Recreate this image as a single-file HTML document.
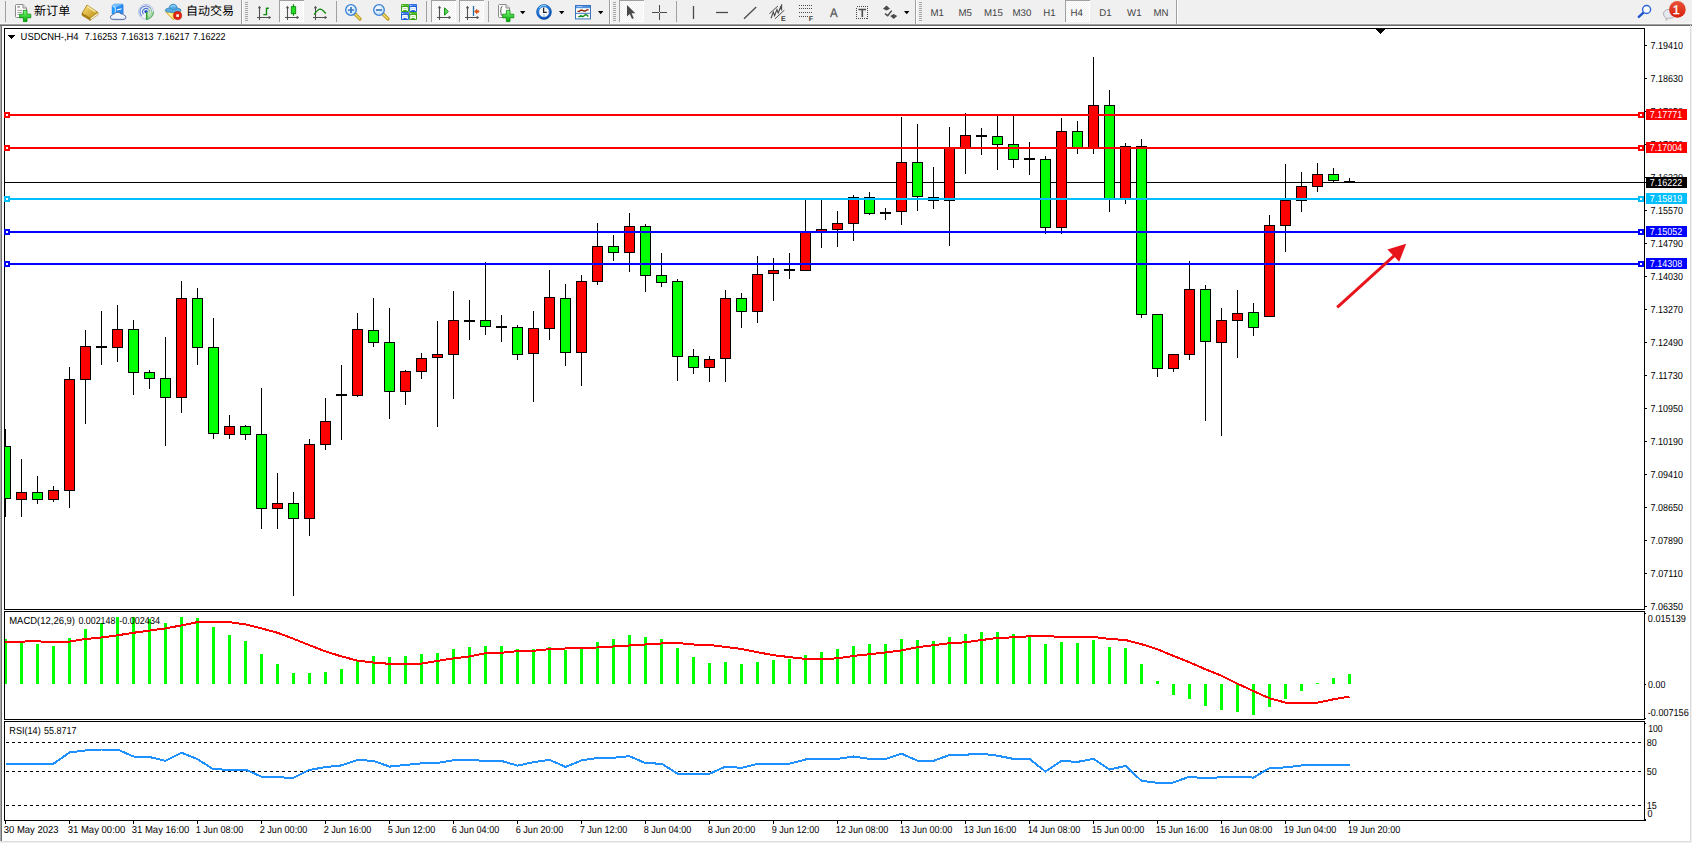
<!DOCTYPE html>
<html lang="zh"><head><meta charset="utf-8"><title>USDCNH-,H4</title>
<style>
html,body{margin:0;padding:0;background:#f0f0f0;overflow:hidden}
body{width:1692px;height:843px;position:relative;font-family:"Liberation Sans", "Noto Sans CJK SC", sans-serif}
svg{position:absolute;left:0;top:0;display:block}
svg text{font-family:"Liberation Sans", "Noto Sans CJK SC", sans-serif;font-size:10.2px;white-space:pre;text-rendering:geometricPrecision}
.cr *{shape-rendering:crispEdges}
</style></head><body>
<svg width="1692" height="843" viewBox="0 0 1692 843">
<g class="cr">
<rect x="0" y="0" width="1692" height="843" fill="#f0f0f0"/>
<rect x="0" y="23" width="1692" height="1" fill="#f6f6f6"/>
<rect x="0" y="24" width="1692" height="1" fill="#a0a0a0"/>
<rect x="0" y="25" width="1692" height="1" fill="#696969"/>
<rect x="0" y="26" width="1690" height="815" fill="#ffffff"/>
<rect x="0" y="26" width="1" height="815" fill="#a9a9a9"/>
<rect x="1" y="26" width="1" height="815" fill="#6e6e6e"/>
<rect x="1690" y="25" width="1" height="817" fill="#dcdcdc"/>
<rect x="0" y="841" width="1691" height="1" fill="#dcdcdc"/>
<rect x="4" y="28" width="1641" height="1" fill="#000"/>
<rect x="4" y="609" width="1641" height="1" fill="#000"/>
<rect x="4" y="611" width="1641" height="1" fill="#000"/>
<rect x="4" y="719" width="1641" height="1" fill="#000"/>
<rect x="4" y="721" width="1641" height="1" fill="#000"/>
<rect x="4" y="820" width="1642" height="1" fill="#000"/>
<rect x="4" y="28" width="1" height="582" fill="#000"/>
<rect x="1644" y="28" width="1" height="582" fill="#000"/>
<rect x="4" y="611" width="1" height="109" fill="#000"/>
<rect x="1644" y="611" width="1" height="109" fill="#000"/>
<rect x="4" y="721" width="1" height="100" fill="#000"/>
<rect x="1644" y="721" width="1" height="100" fill="#000"/>
<rect x="1376" y="29" width="9" height="1" fill="#000"/>
<rect x="1377" y="30" width="7" height="1" fill="#000"/>
<rect x="1378" y="31" width="5" height="1" fill="#000"/>
<rect x="1379" y="32" width="3" height="1" fill="#000"/>
<rect x="1380" y="33" width="1" height="1" fill="#000"/>
<rect x="5" y="182" width="1641" height="1" fill="#000"/>
<g id="candles">
<rect x="5" y="429" width="1" height="88" fill="#000"/>
<rect x="5" y="446" width="6" height="53" fill="#000"/>
<rect x="5" y="447" width="5" height="51" fill="#00ff00"/>
<rect x="21" y="459" width="1" height="58" fill="#000"/>
<rect x="16" y="492" width="11" height="8" fill="#000"/>
<rect x="17" y="493" width="9" height="6" fill="#ff0000"/>
<rect x="37" y="476" width="1" height="28" fill="#000"/>
<rect x="32" y="492" width="11" height="8" fill="#000"/>
<rect x="33" y="493" width="9" height="6" fill="#00ff00"/>
<rect x="53" y="486" width="1" height="16" fill="#000"/>
<rect x="48" y="490" width="11" height="10" fill="#000"/>
<rect x="49" y="491" width="9" height="8" fill="#ff0000"/>
<rect x="69" y="367" width="1" height="141" fill="#000"/>
<rect x="64" y="379" width="11" height="112" fill="#000"/>
<rect x="65" y="380" width="9" height="110" fill="#ff0000"/>
<rect x="85" y="330" width="1" height="94" fill="#000"/>
<rect x="80" y="346" width="11" height="34" fill="#000"/>
<rect x="81" y="347" width="9" height="32" fill="#ff0000"/>
<rect x="101" y="311" width="1" height="54" fill="#000"/>
<rect x="96" y="346" width="11" height="2" fill="#000"/>
<rect x="117" y="305" width="1" height="57" fill="#000"/>
<rect x="112" y="329" width="11" height="19" fill="#000"/>
<rect x="113" y="330" width="9" height="17" fill="#ff0000"/>
<rect x="133" y="320" width="1" height="75" fill="#000"/>
<rect x="128" y="329" width="11" height="44" fill="#000"/>
<rect x="129" y="330" width="9" height="42" fill="#00ff00"/>
<rect x="149" y="370" width="1" height="19" fill="#000"/>
<rect x="144" y="372" width="11" height="7" fill="#000"/>
<rect x="145" y="373" width="9" height="5" fill="#00ff00"/>
<rect x="165" y="337" width="1" height="109" fill="#000"/>
<rect x="160" y="378" width="11" height="20" fill="#000"/>
<rect x="161" y="379" width="9" height="18" fill="#00ff00"/>
<rect x="181" y="281" width="1" height="132" fill="#000"/>
<rect x="176" y="298" width="11" height="100" fill="#000"/>
<rect x="177" y="299" width="9" height="98" fill="#ff0000"/>
<rect x="197" y="288" width="1" height="77" fill="#000"/>
<rect x="192" y="298" width="11" height="50" fill="#000"/>
<rect x="193" y="299" width="9" height="48" fill="#00ff00"/>
<rect x="213" y="318" width="1" height="121" fill="#000"/>
<rect x="208" y="347" width="11" height="87" fill="#000"/>
<rect x="209" y="348" width="9" height="85" fill="#00ff00"/>
<rect x="229" y="415" width="1" height="24" fill="#000"/>
<rect x="224" y="426" width="11" height="9" fill="#000"/>
<rect x="225" y="427" width="9" height="7" fill="#ff0000"/>
<rect x="245" y="425" width="1" height="15" fill="#000"/>
<rect x="240" y="426" width="11" height="9" fill="#000"/>
<rect x="241" y="427" width="9" height="7" fill="#00ff00"/>
<rect x="261" y="388" width="1" height="141" fill="#000"/>
<rect x="256" y="434" width="11" height="75" fill="#000"/>
<rect x="257" y="435" width="9" height="73" fill="#00ff00"/>
<rect x="277" y="473" width="1" height="56" fill="#000"/>
<rect x="272" y="503" width="11" height="6" fill="#000"/>
<rect x="273" y="504" width="9" height="4" fill="#ff0000"/>
<rect x="293" y="492" width="1" height="104" fill="#000"/>
<rect x="288" y="503" width="11" height="16" fill="#000"/>
<rect x="289" y="504" width="9" height="14" fill="#00ff00"/>
<rect x="309" y="439" width="1" height="97" fill="#000"/>
<rect x="304" y="444" width="11" height="75" fill="#000"/>
<rect x="305" y="445" width="9" height="73" fill="#ff0000"/>
<rect x="325" y="398" width="1" height="52" fill="#000"/>
<rect x="320" y="421" width="11" height="24" fill="#000"/>
<rect x="321" y="422" width="9" height="22" fill="#ff0000"/>
<rect x="341" y="365" width="1" height="75" fill="#000"/>
<rect x="336" y="394" width="11" height="2" fill="#000"/>
<rect x="357" y="313" width="1" height="84" fill="#000"/>
<rect x="352" y="329" width="11" height="67" fill="#000"/>
<rect x="353" y="330" width="9" height="65" fill="#ff0000"/>
<rect x="373" y="298" width="1" height="49" fill="#000"/>
<rect x="368" y="330" width="11" height="13" fill="#000"/>
<rect x="369" y="331" width="9" height="11" fill="#00ff00"/>
<rect x="389" y="308" width="1" height="111" fill="#000"/>
<rect x="384" y="342" width="11" height="50" fill="#000"/>
<rect x="385" y="343" width="9" height="48" fill="#00ff00"/>
<rect x="405" y="370" width="1" height="35" fill="#000"/>
<rect x="400" y="371" width="11" height="21" fill="#000"/>
<rect x="401" y="372" width="9" height="19" fill="#ff0000"/>
<rect x="421" y="353" width="1" height="26" fill="#000"/>
<rect x="416" y="358" width="11" height="14" fill="#000"/>
<rect x="417" y="359" width="9" height="12" fill="#ff0000"/>
<rect x="437" y="321" width="1" height="106" fill="#000"/>
<rect x="432" y="354" width="11" height="4" fill="#000"/>
<rect x="433" y="355" width="9" height="2" fill="#ff0000"/>
<rect x="453" y="291" width="1" height="108" fill="#000"/>
<rect x="448" y="320" width="11" height="35" fill="#000"/>
<rect x="449" y="321" width="9" height="33" fill="#ff0000"/>
<rect x="469" y="300" width="1" height="40" fill="#000"/>
<rect x="464" y="320" width="11" height="2" fill="#000"/>
<rect x="485" y="262" width="1" height="73" fill="#000"/>
<rect x="480" y="320" width="11" height="7" fill="#000"/>
<rect x="481" y="321" width="9" height="5" fill="#00ff00"/>
<rect x="501" y="315" width="1" height="27" fill="#000"/>
<rect x="496" y="326" width="11" height="2" fill="#000"/>
<rect x="517" y="325" width="1" height="35" fill="#000"/>
<rect x="512" y="327" width="11" height="28" fill="#000"/>
<rect x="513" y="328" width="9" height="26" fill="#00ff00"/>
<rect x="533" y="311" width="1" height="91" fill="#000"/>
<rect x="528" y="328" width="11" height="26" fill="#000"/>
<rect x="529" y="329" width="9" height="24" fill="#ff0000"/>
<rect x="549" y="270" width="1" height="70" fill="#000"/>
<rect x="544" y="297" width="11" height="32" fill="#000"/>
<rect x="545" y="298" width="9" height="30" fill="#ff0000"/>
<rect x="565" y="284" width="1" height="82" fill="#000"/>
<rect x="560" y="298" width="11" height="55" fill="#000"/>
<rect x="561" y="299" width="9" height="53" fill="#00ff00"/>
<rect x="581" y="275" width="1" height="111" fill="#000"/>
<rect x="576" y="281" width="11" height="72" fill="#000"/>
<rect x="577" y="282" width="9" height="70" fill="#ff0000"/>
<rect x="597" y="223" width="1" height="62" fill="#000"/>
<rect x="592" y="246" width="11" height="36" fill="#000"/>
<rect x="593" y="247" width="9" height="34" fill="#ff0000"/>
<rect x="613" y="235" width="1" height="26" fill="#000"/>
<rect x="608" y="246" width="11" height="7" fill="#000"/>
<rect x="609" y="247" width="9" height="5" fill="#00ff00"/>
<rect x="629" y="213" width="1" height="59" fill="#000"/>
<rect x="624" y="226" width="11" height="27" fill="#000"/>
<rect x="625" y="227" width="9" height="25" fill="#ff0000"/>
<rect x="645" y="224" width="1" height="68" fill="#000"/>
<rect x="640" y="226" width="11" height="50" fill="#000"/>
<rect x="641" y="227" width="9" height="48" fill="#00ff00"/>
<rect x="661" y="253" width="1" height="34" fill="#000"/>
<rect x="656" y="275" width="11" height="8" fill="#000"/>
<rect x="657" y="276" width="9" height="6" fill="#00ff00"/>
<rect x="677" y="279" width="1" height="102" fill="#000"/>
<rect x="672" y="281" width="11" height="76" fill="#000"/>
<rect x="673" y="282" width="9" height="74" fill="#00ff00"/>
<rect x="693" y="349" width="1" height="25" fill="#000"/>
<rect x="688" y="356" width="11" height="12" fill="#000"/>
<rect x="689" y="357" width="9" height="10" fill="#00ff00"/>
<rect x="709" y="356" width="1" height="26" fill="#000"/>
<rect x="704" y="359" width="11" height="9" fill="#000"/>
<rect x="705" y="360" width="9" height="7" fill="#ff0000"/>
<rect x="725" y="290" width="1" height="92" fill="#000"/>
<rect x="720" y="298" width="11" height="61" fill="#000"/>
<rect x="721" y="299" width="9" height="59" fill="#ff0000"/>
<rect x="741" y="293" width="1" height="35" fill="#000"/>
<rect x="736" y="298" width="11" height="14" fill="#000"/>
<rect x="737" y="299" width="9" height="12" fill="#00ff00"/>
<rect x="757" y="256" width="1" height="67" fill="#000"/>
<rect x="752" y="274" width="11" height="38" fill="#000"/>
<rect x="753" y="275" width="9" height="36" fill="#ff0000"/>
<rect x="773" y="258" width="1" height="43" fill="#000"/>
<rect x="768" y="270" width="11" height="4" fill="#000"/>
<rect x="769" y="271" width="9" height="2" fill="#ff0000"/>
<rect x="789" y="253" width="1" height="26" fill="#000"/>
<rect x="784" y="269" width="11" height="2" fill="#000"/>
<rect x="805" y="200" width="1" height="71" fill="#000"/>
<rect x="800" y="231" width="11" height="40" fill="#000"/>
<rect x="801" y="232" width="9" height="38" fill="#ff0000"/>
<rect x="821" y="200" width="1" height="48" fill="#000"/>
<rect x="816" y="229" width="11" height="3" fill="#000"/>
<rect x="817" y="230" width="9" height="1" fill="#ff0000"/>
<rect x="837" y="211" width="1" height="36" fill="#000"/>
<rect x="832" y="223" width="11" height="7" fill="#000"/>
<rect x="833" y="224" width="9" height="5" fill="#ff0000"/>
<rect x="853" y="195" width="1" height="46" fill="#000"/>
<rect x="848" y="197" width="11" height="27" fill="#000"/>
<rect x="849" y="198" width="9" height="25" fill="#ff0000"/>
<rect x="869" y="192" width="1" height="23" fill="#000"/>
<rect x="864" y="197" width="11" height="17" fill="#000"/>
<rect x="865" y="198" width="9" height="15" fill="#00ff00"/>
<rect x="885" y="208" width="1" height="12" fill="#000"/>
<rect x="880" y="212" width="11" height="2" fill="#000"/>
<rect x="901" y="117" width="1" height="108" fill="#000"/>
<rect x="896" y="162" width="11" height="50" fill="#000"/>
<rect x="897" y="163" width="9" height="48" fill="#ff0000"/>
<rect x="917" y="124" width="1" height="87" fill="#000"/>
<rect x="912" y="162" width="11" height="35" fill="#000"/>
<rect x="913" y="163" width="9" height="33" fill="#00ff00"/>
<rect x="933" y="167" width="1" height="42" fill="#000"/>
<rect x="928" y="197" width="11" height="4" fill="#000"/>
<rect x="929" y="198" width="9" height="2" fill="#00ff00"/>
<rect x="949" y="127" width="1" height="119" fill="#000"/>
<rect x="944" y="147" width="11" height="54" fill="#000"/>
<rect x="945" y="148" width="9" height="52" fill="#ff0000"/>
<rect x="965" y="113" width="1" height="61" fill="#000"/>
<rect x="960" y="135" width="11" height="13" fill="#000"/>
<rect x="961" y="136" width="9" height="11" fill="#ff0000"/>
<rect x="981" y="128" width="1" height="27" fill="#000"/>
<rect x="976" y="135" width="11" height="2" fill="#000"/>
<rect x="997" y="116" width="1" height="54" fill="#000"/>
<rect x="992" y="136" width="11" height="9" fill="#000"/>
<rect x="993" y="137" width="9" height="7" fill="#00ff00"/>
<rect x="1013" y="116" width="1" height="52" fill="#000"/>
<rect x="1008" y="144" width="11" height="16" fill="#000"/>
<rect x="1009" y="145" width="9" height="14" fill="#00ff00"/>
<rect x="1029" y="142" width="1" height="33" fill="#000"/>
<rect x="1024" y="158" width="11" height="2" fill="#000"/>
<rect x="1045" y="156" width="1" height="78" fill="#000"/>
<rect x="1040" y="159" width="11" height="69" fill="#000"/>
<rect x="1041" y="160" width="9" height="67" fill="#00ff00"/>
<rect x="1061" y="118" width="1" height="116" fill="#000"/>
<rect x="1056" y="131" width="11" height="97" fill="#000"/>
<rect x="1057" y="132" width="9" height="95" fill="#ff0000"/>
<rect x="1077" y="121" width="1" height="33" fill="#000"/>
<rect x="1072" y="131" width="11" height="17" fill="#000"/>
<rect x="1073" y="132" width="9" height="15" fill="#00ff00"/>
<rect x="1093" y="57" width="1" height="97" fill="#000"/>
<rect x="1088" y="105" width="11" height="43" fill="#000"/>
<rect x="1089" y="106" width="9" height="41" fill="#ff0000"/>
<rect x="1109" y="90" width="1" height="122" fill="#000"/>
<rect x="1104" y="105" width="11" height="94" fill="#000"/>
<rect x="1105" y="106" width="9" height="92" fill="#00ff00"/>
<rect x="1125" y="143" width="1" height="61" fill="#000"/>
<rect x="1120" y="146" width="11" height="53" fill="#000"/>
<rect x="1121" y="147" width="9" height="51" fill="#ff0000"/>
<rect x="1141" y="139" width="1" height="179" fill="#000"/>
<rect x="1136" y="146" width="11" height="169" fill="#000"/>
<rect x="1137" y="147" width="9" height="167" fill="#00ff00"/>
<rect x="1157" y="314" width="1" height="63" fill="#000"/>
<rect x="1152" y="314" width="11" height="55" fill="#000"/>
<rect x="1153" y="315" width="9" height="53" fill="#00ff00"/>
<rect x="1173" y="354" width="1" height="18" fill="#000"/>
<rect x="1168" y="354" width="11" height="15" fill="#000"/>
<rect x="1169" y="355" width="9" height="13" fill="#ff0000"/>
<rect x="1189" y="261" width="1" height="99" fill="#000"/>
<rect x="1184" y="289" width="11" height="66" fill="#000"/>
<rect x="1185" y="290" width="9" height="64" fill="#ff0000"/>
<rect x="1205" y="285" width="1" height="136" fill="#000"/>
<rect x="1200" y="289" width="11" height="53" fill="#000"/>
<rect x="1201" y="290" width="9" height="51" fill="#00ff00"/>
<rect x="1221" y="308" width="1" height="128" fill="#000"/>
<rect x="1216" y="320" width="11" height="23" fill="#000"/>
<rect x="1217" y="321" width="9" height="21" fill="#ff0000"/>
<rect x="1237" y="290" width="1" height="68" fill="#000"/>
<rect x="1232" y="313" width="11" height="8" fill="#000"/>
<rect x="1233" y="314" width="9" height="6" fill="#ff0000"/>
<rect x="1253" y="303" width="1" height="33" fill="#000"/>
<rect x="1248" y="312" width="11" height="16" fill="#000"/>
<rect x="1249" y="313" width="9" height="14" fill="#00ff00"/>
<rect x="1269" y="215" width="1" height="102" fill="#000"/>
<rect x="1264" y="225" width="11" height="92" fill="#000"/>
<rect x="1265" y="226" width="9" height="90" fill="#ff0000"/>
<rect x="1285" y="164" width="1" height="88" fill="#000"/>
<rect x="1280" y="200" width="11" height="26" fill="#000"/>
<rect x="1281" y="201" width="9" height="24" fill="#ff0000"/>
<rect x="1301" y="172" width="1" height="40" fill="#000"/>
<rect x="1296" y="186" width="11" height="15" fill="#000"/>
<rect x="1297" y="187" width="9" height="13" fill="#ff0000"/>
<rect x="1317" y="163" width="1" height="29" fill="#000"/>
<rect x="1312" y="174" width="11" height="13" fill="#000"/>
<rect x="1313" y="175" width="9" height="11" fill="#ff0000"/>
<rect x="1333" y="168" width="1" height="15" fill="#000"/>
<rect x="1328" y="174" width="11" height="7" fill="#000"/>
<rect x="1329" y="175" width="9" height="5" fill="#00ff00"/>
<rect x="1349" y="178" width="1" height="4" fill="#000"/>
<rect x="1344" y="181" width="11" height="1" fill="#000"/>
</g>
<rect x="5" y="114" width="1639" height="2" fill="#ff0000"/>
<rect x="4" y="112" width="6" height="6" fill="#ff0000"/>
<rect x="6" y="114" width="2" height="2" fill="#fff"/>
<rect x="1638" y="112" width="6" height="6" fill="#ff0000"/>
<rect x="1640" y="114" width="2" height="2" fill="#fff"/>
<rect x="5" y="147" width="1639" height="2" fill="#ff0000"/>
<rect x="4" y="145" width="6" height="6" fill="#ff0000"/>
<rect x="6" y="147" width="2" height="2" fill="#fff"/>
<rect x="1638" y="145" width="6" height="6" fill="#ff0000"/>
<rect x="1640" y="147" width="2" height="2" fill="#fff"/>
<rect x="5" y="198" width="1639" height="2" fill="#00bfff"/>
<rect x="4" y="196" width="6" height="6" fill="#00bfff"/>
<rect x="6" y="198" width="2" height="2" fill="#fff"/>
<rect x="1638" y="196" width="6" height="6" fill="#00bfff"/>
<rect x="1640" y="198" width="2" height="2" fill="#fff"/>
<rect x="5" y="231" width="1639" height="2" fill="#0000ff"/>
<rect x="4" y="229" width="6" height="6" fill="#0000ff"/>
<rect x="6" y="231" width="2" height="2" fill="#fff"/>
<rect x="1638" y="229" width="6" height="6" fill="#0000ff"/>
<rect x="1640" y="231" width="2" height="2" fill="#fff"/>
<rect x="5" y="263" width="1639" height="2" fill="#0000ff"/>
<rect x="4" y="261" width="6" height="6" fill="#0000ff"/>
<rect x="6" y="263" width="2" height="2" fill="#fff"/>
<rect x="1638" y="261" width="6" height="6" fill="#0000ff"/>
<rect x="1640" y="263" width="2" height="2" fill="#fff"/>
<rect x="5" y="639" width="2" height="45" fill="#00ff00"/>
<rect x="20" y="642" width="3" height="42" fill="#00ff00"/>
<rect x="36" y="644" width="3" height="40" fill="#00ff00"/>
<rect x="52" y="646" width="3" height="38" fill="#00ff00"/>
<rect x="68" y="638" width="3" height="46" fill="#00ff00"/>
<rect x="84" y="629" width="3" height="55" fill="#00ff00"/>
<rect x="100" y="623" width="3" height="61" fill="#00ff00"/>
<rect x="116" y="617" width="3" height="67" fill="#00ff00"/>
<rect x="132" y="617" width="3" height="67" fill="#00ff00"/>
<rect x="148" y="619" width="3" height="65" fill="#00ff00"/>
<rect x="164" y="623" width="3" height="61" fill="#00ff00"/>
<rect x="180" y="617" width="3" height="67" fill="#00ff00"/>
<rect x="196" y="618" width="3" height="66" fill="#00ff00"/>
<rect x="212" y="627" width="3" height="57" fill="#00ff00"/>
<rect x="228" y="635" width="3" height="49" fill="#00ff00"/>
<rect x="244" y="641" width="3" height="43" fill="#00ff00"/>
<rect x="260" y="654" width="3" height="30" fill="#00ff00"/>
<rect x="276" y="664" width="3" height="20" fill="#00ff00"/>
<rect x="292" y="673" width="3" height="11" fill="#00ff00"/>
<rect x="308" y="673" width="3" height="11" fill="#00ff00"/>
<rect x="324" y="672" width="3" height="12" fill="#00ff00"/>
<rect x="340" y="669" width="3" height="15" fill="#00ff00"/>
<rect x="356" y="661" width="3" height="23" fill="#00ff00"/>
<rect x="372" y="656" width="3" height="28" fill="#00ff00"/>
<rect x="388" y="657" width="3" height="27" fill="#00ff00"/>
<rect x="404" y="656" width="3" height="28" fill="#00ff00"/>
<rect x="420" y="654" width="3" height="30" fill="#00ff00"/>
<rect x="436" y="653" width="3" height="31" fill="#00ff00"/>
<rect x="452" y="649" width="3" height="35" fill="#00ff00"/>
<rect x="468" y="647" width="3" height="37" fill="#00ff00"/>
<rect x="484" y="646" width="3" height="38" fill="#00ff00"/>
<rect x="500" y="646" width="3" height="38" fill="#00ff00"/>
<rect x="516" y="649" width="3" height="35" fill="#00ff00"/>
<rect x="532" y="649" width="3" height="35" fill="#00ff00"/>
<rect x="548" y="647" width="3" height="37" fill="#00ff00"/>
<rect x="564" y="650" width="3" height="34" fill="#00ff00"/>
<rect x="580" y="648" width="3" height="36" fill="#00ff00"/>
<rect x="596" y="642" width="3" height="42" fill="#00ff00"/>
<rect x="612" y="639" width="3" height="45" fill="#00ff00"/>
<rect x="628" y="635" width="3" height="49" fill="#00ff00"/>
<rect x="644" y="637" width="3" height="47" fill="#00ff00"/>
<rect x="660" y="639" width="3" height="45" fill="#00ff00"/>
<rect x="676" y="648" width="3" height="36" fill="#00ff00"/>
<rect x="692" y="657" width="3" height="27" fill="#00ff00"/>
<rect x="708" y="663" width="3" height="21" fill="#00ff00"/>
<rect x="724" y="662" width="3" height="22" fill="#00ff00"/>
<rect x="740" y="664" width="3" height="20" fill="#00ff00"/>
<rect x="756" y="662" width="3" height="22" fill="#00ff00"/>
<rect x="772" y="660" width="3" height="24" fill="#00ff00"/>
<rect x="788" y="659" width="3" height="25" fill="#00ff00"/>
<rect x="804" y="655" width="3" height="29" fill="#00ff00"/>
<rect x="820" y="652" width="3" height="32" fill="#00ff00"/>
<rect x="836" y="649" width="3" height="35" fill="#00ff00"/>
<rect x="852" y="646" width="3" height="38" fill="#00ff00"/>
<rect x="868" y="644" width="3" height="40" fill="#00ff00"/>
<rect x="884" y="644" width="3" height="40" fill="#00ff00"/>
<rect x="900" y="639" width="3" height="45" fill="#00ff00"/>
<rect x="916" y="640" width="3" height="44" fill="#00ff00"/>
<rect x="932" y="641" width="3" height="43" fill="#00ff00"/>
<rect x="948" y="637" width="3" height="47" fill="#00ff00"/>
<rect x="964" y="634" width="3" height="50" fill="#00ff00"/>
<rect x="980" y="632" width="3" height="52" fill="#00ff00"/>
<rect x="996" y="632" width="3" height="52" fill="#00ff00"/>
<rect x="1012" y="634" width="3" height="50" fill="#00ff00"/>
<rect x="1028" y="637" width="3" height="47" fill="#00ff00"/>
<rect x="1044" y="644" width="3" height="40" fill="#00ff00"/>
<rect x="1060" y="642" width="3" height="42" fill="#00ff00"/>
<rect x="1076" y="643" width="3" height="41" fill="#00ff00"/>
<rect x="1092" y="640" width="3" height="44" fill="#00ff00"/>
<rect x="1108" y="647" width="3" height="37" fill="#00ff00"/>
<rect x="1124" y="648" width="3" height="36" fill="#00ff00"/>
<rect x="1140" y="664" width="3" height="20" fill="#00ff00"/>
<rect x="1156" y="681" width="3" height="3" fill="#00ff00"/>
<rect x="1316" y="683" width="3" height="1" fill="#00ff00"/>
<rect x="1332" y="678" width="3" height="6" fill="#00ff00"/>
<rect x="1348" y="674" width="3" height="10" fill="#00ff00"/>
<rect x="1172" y="684" width="3" height="11" fill="#00ff00"/>
<rect x="1188" y="684" width="3" height="15" fill="#00ff00"/>
<rect x="1204" y="684" width="3" height="22" fill="#00ff00"/>
<rect x="1220" y="684" width="3" height="26" fill="#00ff00"/>
<rect x="1236" y="684" width="3" height="28" fill="#00ff00"/>
<rect x="1252" y="684" width="3" height="31" fill="#00ff00"/>
<rect x="1268" y="684" width="3" height="23" fill="#00ff00"/>
<rect x="1284" y="684" width="3" height="15" fill="#00ff00"/>
<rect x="1300" y="684" width="3" height="7" fill="#00ff00"/>
</g>
<polyline points="5.5,642.0 21.5,641.8 30.5,641.0 37.5,641.2 45.5,642.0 53.5,642.0 69.5,641.6 85.5,639.0 101.5,637.5 117.5,635.3 133.5,632.8 149.5,630.6 165.5,628.4 181.5,625.4 197.5,622.1 213.5,621.9 229.5,622.1 245.5,624.4 261.5,628.4 277.5,632.8 293.5,638.8 309.5,645.2 325.5,651.4 341.5,656.4 357.5,660.6 373.5,662.6 389.5,663.8 405.5,663.8 421.5,663.6 437.5,660.9 453.5,658.4 469.5,656.4 485.5,653.2 501.5,652.7 517.5,651.2 533.5,650.7 549.5,649.2 565.5,648.5 581.5,647.7 597.5,647.5 613.5,646.5 629.5,645.5 645.5,644.5 661.5,643.5 677.5,643.0 693.5,644.5 709.5,645.0 725.5,647.0 741.5,649.0 757.5,652.2 773.5,655.2 789.5,657.1 805.5,658.9 821.5,658.9 837.5,658.4 853.5,655.9 869.5,654.2 885.5,652.4 901.5,650.4 917.5,647.2 933.5,645.2 949.5,643.2 965.5,642.3 981.5,640.0 997.5,638.0 1013.5,637.3 1029.5,636.3 1045.5,636.0 1061.5,637.0 1077.5,637.0 1093.5,637.0 1109.5,639.0 1125.5,640.0 1141.5,644.2 1157.5,649.2 1173.5,656.0 1189.5,662.3 1205.5,669.3 1221.5,675.8 1237.5,683.7 1253.5,691.1 1269.5,698.3 1285.5,702.6 1301.5,702.6 1317.5,702.6 1333.5,699.3 1349.5,696.6" fill="none" stroke="#ff0000" stroke-width="2" stroke-linejoin="round" shape-rendering="crispEdges"/>
<g class="cr">
<line x1="6" y1="742.5" x2="1644" y2="742.5" stroke="#000" stroke-width="1" stroke-dasharray="3 3"/>
<line x1="6" y1="771.5" x2="1644" y2="771.5" stroke="#000" stroke-width="1" stroke-dasharray="3 3"/>
<line x1="6" y1="805.5" x2="1644" y2="805.5" stroke="#000" stroke-width="1" stroke-dasharray="3 3"/>
</g>
<polyline points="5.5,763.7 21.5,763.7 37.5,763.7 53.5,763.7 69.5,752.5 85.5,750.5 101.5,749.5 117.5,749.5 133.5,756.5 149.5,757.0 165.5,760.9 181.5,752.7 197.5,759.2 213.5,769.4 229.5,769.6 245.5,769.6 261.5,776.6 277.5,777.3 293.5,777.8 309.5,769.9 325.5,767.1 341.5,765.4 357.5,759.9 373.5,760.9 389.5,766.6 405.5,765.0 421.5,763.4 437.5,762.9 453.5,760.2 469.5,759.9 485.5,760.9 501.5,760.9 517.5,765.6 533.5,762.2 549.5,759.9 565.5,766.9 581.5,760.4 597.5,757.9 613.5,757.7 629.5,756.2 645.5,763.2 661.5,763.7 677.5,773.6 693.5,773.8 709.5,773.8 725.5,766.6 741.5,767.9 757.5,763.9 773.5,763.7 789.5,763.7 805.5,759.5 821.5,758.9 837.5,758.9 853.5,756.5 869.5,758.9 885.5,758.9 901.5,753.7 917.5,760.7 933.5,760.9 949.5,755.0 965.5,754.7 981.5,753.7 997.5,755.7 1013.5,758.9 1029.5,758.9 1045.5,771.6 1061.5,760.9 1077.5,761.9 1093.5,758.9 1109.5,769.6 1125.5,765.9 1141.5,780.8 1157.5,782.8 1173.5,782.5 1189.5,776.6 1205.5,778.5 1221.5,777.1 1237.5,776.6 1253.5,777.6 1269.5,768.1 1285.5,767.4 1301.5,765.4 1317.5,764.9 1333.5,764.9 1349.5,764.9" fill="none" stroke="#1e90ff" stroke-width="2" stroke-linejoin="round" shape-rendering="crispEdges"/>
<g class="cr">
<rect x="1645" y="45" width="2" height="1" fill="#000"/>
<rect x="1645" y="78" width="2" height="1" fill="#000"/>
<rect x="1645" y="111" width="2" height="1" fill="#000"/>
<rect x="1645" y="144" width="2" height="1" fill="#000"/>
<rect x="1645" y="177" width="2" height="1" fill="#000"/>
<rect x="1645" y="210" width="2" height="1" fill="#000"/>
<rect x="1645" y="243" width="2" height="1" fill="#000"/>
<rect x="1645" y="276" width="2" height="1" fill="#000"/>
<rect x="1645" y="309" width="2" height="1" fill="#000"/>
<rect x="1645" y="342" width="2" height="1" fill="#000"/>
<rect x="1645" y="375" width="2" height="1" fill="#000"/>
<rect x="1645" y="408" width="2" height="1" fill="#000"/>
<rect x="1645" y="441" width="2" height="1" fill="#000"/>
<rect x="1645" y="474" width="2" height="1" fill="#000"/>
<rect x="1645" y="507" width="2" height="1" fill="#000"/>
<rect x="1645" y="540" width="2" height="1" fill="#000"/>
<rect x="1645" y="573" width="2" height="1" fill="#000"/>
<rect x="1645" y="606" width="2" height="1" fill="#000"/>
</g>
<text x="1650.6" y="49" fill="#000" textLength="32.3" lengthAdjust="spacingAndGlyphs">7.19410</text>
<text x="1650.6" y="82" fill="#000" textLength="32.3" lengthAdjust="spacingAndGlyphs">7.18630</text>
<text x="1650.6" y="115" fill="#000" textLength="32.3" lengthAdjust="spacingAndGlyphs">7.17850</text>
<text x="1650.6" y="148" fill="#000" textLength="32.3" lengthAdjust="spacingAndGlyphs">7.17090</text>
<text x="1650.6" y="181" fill="#000" textLength="32.3" lengthAdjust="spacingAndGlyphs">7.16330</text>
<text x="1650.6" y="214" fill="#000" textLength="32.3" lengthAdjust="spacingAndGlyphs">7.15570</text>
<text x="1650.6" y="247" fill="#000" textLength="32.3" lengthAdjust="spacingAndGlyphs">7.14790</text>
<text x="1650.6" y="280" fill="#000" textLength="32.3" lengthAdjust="spacingAndGlyphs">7.14030</text>
<text x="1650.6" y="313" fill="#000" textLength="32.3" lengthAdjust="spacingAndGlyphs">7.13270</text>
<text x="1650.6" y="346" fill="#000" textLength="32.3" lengthAdjust="spacingAndGlyphs">7.12490</text>
<text x="1650.6" y="379" fill="#000" textLength="32.3" lengthAdjust="spacingAndGlyphs">7.11730</text>
<text x="1650.6" y="412" fill="#000" textLength="32.3" lengthAdjust="spacingAndGlyphs">7.10950</text>
<text x="1650.6" y="445" fill="#000" textLength="32.3" lengthAdjust="spacingAndGlyphs">7.10190</text>
<text x="1650.6" y="478" fill="#000" textLength="32.3" lengthAdjust="spacingAndGlyphs">7.09410</text>
<text x="1650.6" y="511" fill="#000" textLength="32.3" lengthAdjust="spacingAndGlyphs">7.08650</text>
<text x="1650.6" y="544" fill="#000" textLength="32.3" lengthAdjust="spacingAndGlyphs">7.07890</text>
<text x="1650.6" y="577" fill="#000" textLength="32.3" lengthAdjust="spacingAndGlyphs">7.07110</text>
<text x="1650.6" y="610" fill="#000" textLength="32.3" lengthAdjust="spacingAndGlyphs">7.06350</text>
<g class="cr">
<rect x="1646" y="109" width="41" height="11" fill="#ff0000"/>
<rect x="1646" y="142" width="41" height="11" fill="#ff0000"/>
<rect x="1646" y="193" width="41" height="11" fill="#00bfff"/>
<rect x="1646" y="226" width="41" height="11" fill="#0000ff"/>
<rect x="1646" y="258" width="41" height="11" fill="#0000ff"/>
<rect x="1645" y="182" width="2" height="1" fill="#000"/>
<rect x="1646" y="177" width="41" height="11" fill="#000"/>
</g>
<text x="1649.8" y="118" fill="#fff" textLength="32.3" lengthAdjust="spacingAndGlyphs">7.17771</text>
<text x="1649.8" y="151" fill="#fff" textLength="32.3" lengthAdjust="spacingAndGlyphs">7.17004</text>
<text x="1649.8" y="202" fill="#fff" textLength="32.3" lengthAdjust="spacingAndGlyphs">7.15819</text>
<text x="1649.8" y="235" fill="#fff" textLength="32.3" lengthAdjust="spacingAndGlyphs">7.15052</text>
<text x="1649.8" y="267" fill="#fff" textLength="32.3" lengthAdjust="spacingAndGlyphs">7.14308</text>
<text x="1649.8" y="186" fill="#fff" textLength="32.3" lengthAdjust="spacingAndGlyphs">7.16222</text>
<text x="1647.8" y="622" fill="#000" textLength="38.1" lengthAdjust="spacingAndGlyphs">0.015139</text>
<text x="1648.1" y="688" fill="#000" textLength="17.3" lengthAdjust="spacingAndGlyphs">0.00</text>
<text x="1647.8" y="716" fill="#000" textLength="40.9" lengthAdjust="spacingAndGlyphs">-0.007156</text>
<text x="1648.2" y="732" fill="#000" textLength="14.4" lengthAdjust="spacingAndGlyphs">100</text>
<text x="1646.8" y="746" fill="#000" textLength="10" lengthAdjust="spacingAndGlyphs">80</text>
<text x="1646.8" y="775" fill="#000" textLength="10" lengthAdjust="spacingAndGlyphs">50</text>
<text x="1646.8" y="809" fill="#000" textLength="10" lengthAdjust="spacingAndGlyphs">15</text>
<text x="1647.4" y="817" fill="#000" textLength="5" lengthAdjust="spacingAndGlyphs">0</text>
<g class="cr">
<rect x="1645" y="613" width="1" height="1" fill="#000"/>
<rect x="1645" y="684" width="1" height="1" fill="#000"/>
<rect x="1645" y="718" width="1" height="1" fill="#000"/>
<rect x="1645" y="723" width="1" height="1" fill="#000"/>
<rect x="1645" y="819" width="1" height="1" fill="#000"/>
</g>
<g class="cr">
<rect x="5" y="821" width="1" height="3" fill="#000"/>
<rect x="69" y="821" width="1" height="3" fill="#000"/>
<rect x="133" y="821" width="1" height="3" fill="#000"/>
<rect x="197" y="821" width="1" height="3" fill="#000"/>
<rect x="261" y="821" width="1" height="3" fill="#000"/>
<rect x="325" y="821" width="1" height="3" fill="#000"/>
<rect x="389" y="821" width="1" height="3" fill="#000"/>
<rect x="453" y="821" width="1" height="3" fill="#000"/>
<rect x="517" y="821" width="1" height="3" fill="#000"/>
<rect x="581" y="821" width="1" height="3" fill="#000"/>
<rect x="645" y="821" width="1" height="3" fill="#000"/>
<rect x="709" y="821" width="1" height="3" fill="#000"/>
<rect x="773" y="821" width="1" height="3" fill="#000"/>
<rect x="837" y="821" width="1" height="3" fill="#000"/>
<rect x="901" y="821" width="1" height="3" fill="#000"/>
<rect x="965" y="821" width="1" height="3" fill="#000"/>
<rect x="1029" y="821" width="1" height="3" fill="#000"/>
<rect x="1093" y="821" width="1" height="3" fill="#000"/>
<rect x="1157" y="821" width="1" height="3" fill="#000"/>
<rect x="1221" y="821" width="1" height="3" fill="#000"/>
<rect x="1285" y="821" width="1" height="3" fill="#000"/>
<rect x="1349" y="821" width="1" height="3" fill="#000"/>
</g>
<text x="3.7" y="833" fill="#000" textLength="54.9" lengthAdjust="spacingAndGlyphs">30 May 2023</text>
<text x="67.7" y="833" fill="#000" textLength="57.7" lengthAdjust="spacingAndGlyphs">31 May 00:00</text>
<text x="131.7" y="833" fill="#000" textLength="57.7" lengthAdjust="spacingAndGlyphs">31 May 16:00</text>
<text x="195.7" y="833" fill="#000" textLength="47.6" lengthAdjust="spacingAndGlyphs">1 Jun 08:00</text>
<text x="259.7" y="833" fill="#000" textLength="47.6" lengthAdjust="spacingAndGlyphs">2 Jun 00:00</text>
<text x="323.7" y="833" fill="#000" textLength="47.6" lengthAdjust="spacingAndGlyphs">2 Jun 16:00</text>
<text x="387.7" y="833" fill="#000" textLength="47.6" lengthAdjust="spacingAndGlyphs">5 Jun 12:00</text>
<text x="451.7" y="833" fill="#000" textLength="47.6" lengthAdjust="spacingAndGlyphs">6 Jun 04:00</text>
<text x="515.7" y="833" fill="#000" textLength="47.6" lengthAdjust="spacingAndGlyphs">6 Jun 20:00</text>
<text x="579.7" y="833" fill="#000" textLength="47.6" lengthAdjust="spacingAndGlyphs">7 Jun 12:00</text>
<text x="643.7" y="833" fill="#000" textLength="47.6" lengthAdjust="spacingAndGlyphs">8 Jun 04:00</text>
<text x="707.7" y="833" fill="#000" textLength="47.6" lengthAdjust="spacingAndGlyphs">8 Jun 20:00</text>
<text x="771.7" y="833" fill="#000" textLength="47.6" lengthAdjust="spacingAndGlyphs">9 Jun 12:00</text>
<text x="835.7" y="833" fill="#000" textLength="52.6" lengthAdjust="spacingAndGlyphs">12 Jun 08:00</text>
<text x="899.7" y="833" fill="#000" textLength="52.6" lengthAdjust="spacingAndGlyphs">13 Jun 00:00</text>
<text x="963.7" y="833" fill="#000" textLength="52.6" lengthAdjust="spacingAndGlyphs">13 Jun 16:00</text>
<text x="1027.7" y="833" fill="#000" textLength="52.6" lengthAdjust="spacingAndGlyphs">14 Jun 08:00</text>
<text x="1091.7" y="833" fill="#000" textLength="52.6" lengthAdjust="spacingAndGlyphs">15 Jun 00:00</text>
<text x="1155.7" y="833" fill="#000" textLength="52.6" lengthAdjust="spacingAndGlyphs">15 Jun 16:00</text>
<text x="1219.7" y="833" fill="#000" textLength="52.6" lengthAdjust="spacingAndGlyphs">16 Jun 08:00</text>
<text x="1283.7" y="833" fill="#000" textLength="52.6" lengthAdjust="spacingAndGlyphs">19 Jun 04:00</text>
<text x="1347.7" y="833" fill="#000" textLength="52.6" lengthAdjust="spacingAndGlyphs">19 Jun 20:00</text>
<path d="M8 35h7l-3.5 4z" fill="#000" shape-rendering="crispEdges"/>
<text x="20.6" y="40" fill="#000" textLength="58" lengthAdjust="spacingAndGlyphs">USDCNH-,H4</text>
<text x="84.8" y="40" fill="#000" textLength="32.5" lengthAdjust="spacingAndGlyphs">7.16253</text>
<text x="120.9" y="40" fill="#000" textLength="32.5" lengthAdjust="spacingAndGlyphs">7.16313</text>
<text x="157.0" y="40" fill="#000" textLength="32.5" lengthAdjust="spacingAndGlyphs">7.16217</text>
<text x="193.10000000000002" y="40" fill="#000" textLength="32.5" lengthAdjust="spacingAndGlyphs">7.16222</text>
<text x="9.2" y="624" fill="#000" textLength="65.8" lengthAdjust="spacingAndGlyphs">MACD(12,26,9)</text>
<text x="78.4" y="624" fill="#000" textLength="37" lengthAdjust="spacingAndGlyphs">0.002148</text>
<text x="119.2" y="624" fill="#000" textLength="40.8" lengthAdjust="spacingAndGlyphs">-0.002434</text>
<text x="9.3" y="734" fill="#000" textLength="31.4" lengthAdjust="spacingAndGlyphs">RSI(14)</text>
<text x="43.9" y="734" fill="#000" textLength="32.6" lengthAdjust="spacingAndGlyphs">55.8717</text>
<g fill="#e8141c" stroke="none"><path d="M1336.2 306.3 L1338.2 308.6 L1395.5 256.6 L1393.5 254.3 Z"/><path d="M1406.2 243.7 L1387.4 249.4 L1399.2 261.8 Z"/></g>
</svg>
<svg width="1692" height="24" viewBox="0 0 1692 24">
<defs>
<linearGradient id="gGreen" x1="0" y1="0" x2="0" y2="1"><stop offset="0" stop-color="#7CFF7C"/><stop offset="1" stop-color="#00A800"/></linearGradient>
<linearGradient id="gGold" x1="0" y1="0" x2="1" y2="1"><stop offset="0" stop-color="#FFE680"/><stop offset="1" stop-color="#B8860B"/></linearGradient>
<linearGradient id="gBlue" x1="0" y1="0" x2="0" y2="1"><stop offset="0" stop-color="#6EC1FF"/><stop offset="1" stop-color="#0A5BD0"/></linearGradient>
<radialGradient id="gLens" cx="0.4" cy="0.35" r="0.7"><stop offset="0" stop-color="#ffffff"/><stop offset="1" stop-color="#B5DCFF"/></radialGradient>
<linearGradient id="gClock" x1="0.2" y1="0" x2="0.7" y2="1"><stop offset="0" stop-color="#2f9bff"/><stop offset="1" stop-color="#0646a8"/></linearGradient>
<linearGradient id="gBadge" x1="0" y1="0" x2="0" y2="1"><stop offset="0" stop-color="#E8553A"/><stop offset="1" stop-color="#D81E0A"/></linearGradient>
<g id="axes">
  <path d="M2.500 14V1M0 11.500H13" fill="none" stroke="#505050" stroke-width="1.100"/>
  <path d="M2.500 -0.300L4.200 2.200H0.800zM14.200 11.500L11.700 9.800V13.200z" fill="#505050"/>
</g>
<pattern id="chk" x="0" y="0" width="2" height="2" patternUnits="userSpaceOnUse"><rect width="2" height="2" fill="#f0f0f0"/><rect x="0" y="0" width="1" height="1" fill="#fff"/><rect x="1" y="1" width="1" height="1" fill="#fff"/></pattern>
<g id="pressed" shape-rendering="crispEdges">
  <rect x="0" y="0" width="25" height="22" fill="url(#chk)"/>
  <rect x="0" y="0" width="25" height="1" fill="#a0a0a0"/>
  <rect x="0" y="0" width="1" height="22" fill="#a0a0a0"/>
  <rect x="24" y="1" width="1" height="21" fill="#ffffff"/>
  <rect x="1" y="21" width="24" height="1" fill="#ffffff"/>
</g>
<g id="grip" fill="#a6a6a6" shape-rendering="crispEdges">
  <rect x="0" y="2" width="3" height="1"/><rect x="0" y="4" width="3" height="1"/><rect x="0" y="6" width="3" height="1"/>
  <rect x="0" y="8" width="3" height="1"/><rect x="0" y="10" width="3" height="1"/><rect x="0" y="12" width="3" height="1"/>
  <rect x="0" y="14" width="3" height="1"/><rect x="0" y="16" width="3" height="1"/><rect x="0" y="18" width="3" height="1"/>
  <rect x="0" y="20" width="3" height="1"/>
</g>
<path id="dd" d="M0 0h5.400l-2.700 3.300z" fill="#000"/>
<g id="plus"><path d="M3.800 0h3.600v3.800H11.200v3.600H7.400V11.200H3.800V7.400H0V3.800H3.800z" fill="url(#gGreen)" stroke="#0a8a0a" stroke-width="0.8"/></g>
</defs>
<style>
.tb text{font-family:"Liberation Sans","Noto Sans CJK SC",sans-serif}
.tf text{font-size:9.7px;fill:#444;text-rendering:geometricPrecision}
</style>
<g class="tb">
<!-- separators -->
<g shape-rendering="crispEdges">
<rect x="5" y="1" width="1" height="21" fill="#a0a0a0"/>
<rect x="241" y="0" width="1" height="24" fill="#a0a0a0"/><rect x="242" y="0" width="1" height="24" fill="#fff"/>
<rect x="336" y="1" width="1" height="21" fill="#a0a0a0"/>
<rect x="426" y="1" width="1" height="21" fill="#a0a0a0"/>
<rect x="488" y="1" width="1" height="21" fill="#a0a0a0"/>
<rect x="609" y="0" width="1" height="24" fill="#a0a0a0"/><rect x="610" y="0" width="1" height="24" fill="#fff"/>
<rect x="676" y="1" width="1" height="21" fill="#a0a0a0"/>
<rect x="915" y="0" width="1" height="24" fill="#a0a0a0"/><rect x="916" y="0" width="1" height="24" fill="#fff"/>
<rect x="1176" y="0" width="1" height="24" fill="#a0a0a0"/><rect x="1177" y="0" width="1" height="24" fill="#fff"/>
</g>
<use href="#grip" x="245" y="0"/><use href="#grip" x="613" y="0"/><use href="#grip" x="919" y="0"/>

<!-- new order -->
<g transform="translate(15,4)">
  <path d="M0.5 1.500Q0.500 0.500 1.500 0.500H8L11.500 4V12.500Q11.500 13.500 10.500 13.500H1.500Q0.500 13.500 0.500 12.500z" fill="#fdfdfd" stroke="#8a8a8a"/>
  <path d="M8 0.500V4H11.500" fill="#e4e4e4" stroke="#8a8a8a"/>
  <path d="M2.300 2.900h2.700" stroke="#8c8c8c" stroke-width="1.400"/><path d="M2.300 6.400h5.200M2.300 8.500h4.500M2.300 10.500h2" stroke="#9a9a9a" stroke-width="0.9"/>
  <use href="#plus" x="4.600" y="6.400"/>
</g>
<text x="34" y="15" style="font-size:12.100px" fill="#000">新订单</text>
<!-- history book -->
<g transform="translate(82,5)">
  <path d="M5 0L16 7.500L8 13.300L0 8.500z" fill="url(#gGold)" stroke="#a87c0c" stroke-width="0.8" stroke-linejoin="round"/>
  <path d="M16 7.500L16.200 9.600L8.200 15.300L8 13.300z" fill="#fbf6e3" stroke="#a8820e" stroke-width="0.6"/>
  <path d="M0 8.500L8 13.300L8.200 15.300L0.300 10.600z" fill="#b8860b" stroke="#8a6508" stroke-width="0.6"/>
  <path d="M5.300 1.300L13.500 7" stroke="#fff6c0" stroke-width="1.300" fill="none" opacity="0.9"/>
</g>
<!-- cloud server -->
<g transform="translate(110,4)">
  <path d="M2.200 1.800L4.600 0.200H12.800L13.100 1.600V10H2.200z" fill="#2b8cf2" stroke="#1a6fd8" stroke-width="0.6"/>
  <path d="M2.200 1.800L5.300 3.300V10H2.200z" fill="#1e9bff"/>
  <path d="M2.200 1.800L4.600 0.200H12.800L5.300 3.300z" fill="#7cc6ff"/>
  <path d="M2.600 2.200L5.300 3.500V9.500" stroke="#e6f4ff" stroke-width="0.9" fill="none"/>
  <path d="M7 5.300L11.600 4.300V5.600L7 6.600z" fill="#f2f9ff"/>
  <path d="M3.300 15.600Q0.400 15.600 0.400 13.300Q0.400 11.200 2.600 11Q2.800 9.600 4.500 9.800Q5.600 8 8 8.300Q10.200 8.300 11 10Q12.800 9.300 13.600 11Q15.900 11.200 15.900 13.300Q15.900 15.600 13 15.600z" fill="#f1f4f9" stroke="#4d63a0" stroke-width="0.9"/>
  <path d="M2 13.700Q8 15.300 14.500 13.500L14.300 14.600Q8 15.400 2.300 14.700z" fill="#c9d3e6"/>
</g>
<!-- signals -->
<g transform="translate(138,4)" fill="none">
  <path d="M8 7.800L15.600 7.800A7.700 7.700 0 0 1 8.200 15.700z" fill="#8fd08f" opacity="0.75"/>
  <path d="M8 7.800L12.800 7.800A4.900 4.900 0 0 1 8.200 12.700z" fill="#c9ecc9" opacity="0.8"/>
  <circle cx="8" cy="7.800" r="7.500" stroke="#9fb4e6" stroke-width="0.9" opacity="0.85"/>
  <path d="M8 15.300A7.500 7.500 0 0 0 15.500 7.800" stroke="#57b257" stroke-width="1"/>
  <path d="M3.700 12A5.600 5.600 0 0 1 12 3.700" stroke="#5f83d8" stroke-width="1.100"/>
  <path d="M12 3.700A5.600 5.600 0 0 1 13.600 7.800" stroke="#7fb79a" stroke-width="1.100"/>
  <path d="M5.500 10.200A3.400 3.400 0 0 1 10.500 5.400" stroke="#4a72d4" stroke-width="1.100"/>
  <path d="M10.500 5.400A3.400 3.400 0 0 1 11.400 7.800" stroke="#6faa8c" stroke-width="1.100"/>
  <circle cx="8" cy="7.600" r="1.700" fill="#2457cf"/>
  <path d="M8.700 8.200V15.600" stroke="#25a025" stroke-width="1.500"/>
</g>
<!-- auto trading -->
<g transform="translate(165,4)">
  <path d="M0.600 7.800L8.300 15.700L15.700 7.600L8 6z" fill="#ffe060" stroke="#c99a14" stroke-width="0.8"/>
  <path d="M2.500 8.600L8.300 14.500L6 8.500z" fill="#fff3a8"/>
  <path d="M0.300 6.300Q0.300 4.600 3.800 4.200Q4.700 0.200 8.200 0.200Q11.600 0.200 12.500 4.200Q16 4.600 16 6.300Q16 8.400 8.200 8.400Q0.300 8.400 0.300 6.300z" fill="#5aaee6" stroke="#2a7fb8" stroke-width="0.8"/>
  <path d="M4.200 4.600Q8.200 6.400 12.200 4.600" stroke="#2a7fb8" stroke-width="0.7" fill="none"/>
  <path d="M5.500 2.500Q8 0.800 10.500 2.200" stroke="#a9dbfb" stroke-width="1" fill="none"/>
  <circle cx="12.600" cy="11.600" r="4.100" fill="#e02410" stroke="#b8200e" stroke-width="0.6"/>
  <rect x="11.300" y="10.300" width="2.600" height="2.600" fill="#fff"/>
</g>
<text x="185.9" y="15" style="font-size:12.000px" fill="#000">自动交易</text>

<!-- chart type buttons -->
<g transform="translate(257,6)"><use href="#axes"/>
  <path d="M9.500 1.700V9.200M9.500 2.300H11.800M6.300 8.600H9.500" stroke="#0a8a0a" stroke-width="1.400" fill="none"/></g>
<use href="#pressed" x="279" y="0"/>
<g transform="translate(285,6)"><use href="#axes"/>
  <path d="M8.500 -1.800V9.800" stroke="#0a8a0a" stroke-width="1.200"/><rect x="6.300" y="0.700" width="4.400" height="7" fill="#22dd22" stroke="#0a8a0a" stroke-width="0.9"/></g>
<g transform="translate(313,6)"><use href="#axes"/>
  <path d="M1.200 8.600Q4.800 3.200 7.400 3.200Q9.500 3.500 12.800 7.500" stroke="#0a8a0a" stroke-width="1.300" fill="none"/></g>

<!-- zoom in / out -->
<g transform="translate(345,4)">
  <path d="M9.500 9.500L15 15" stroke="#b8961e" stroke-width="3.200" stroke-linecap="round"/>
  <path d="M10 10L14.800 14.800" stroke="#f3dc6a" stroke-width="1.400" stroke-linecap="round"/>
  <circle cx="6" cy="6" r="5.300" fill="url(#gLens)" stroke="#3b7fd4" stroke-width="1.300"/>
  <path d="M3 6H9M6 3V9" stroke="#3b78c0" stroke-width="1.700"/>
</g>
<g transform="translate(373,4)">
  <path d="M9.500 9.500L15 15" stroke="#b8961e" stroke-width="3.200" stroke-linecap="round"/>
  <path d="M10 10L14.800 14.800" stroke="#f3dc6a" stroke-width="1.400" stroke-linecap="round"/>
  <circle cx="6" cy="6" r="5.300" fill="url(#gLens)" stroke="#3b7fd4" stroke-width="1.300"/>
  <path d="M3 6H9" stroke="#3b78c0" stroke-width="1.700"/>
</g>
<!-- tile windows -->
<g transform="translate(401,4)">
  <rect x="0" y="0" width="7.900" height="7.900" rx="0.9" fill="#3aa516"/><rect x="8.100" y="0" width="7.900" height="7.900" rx="0.9" fill="#1f5fd6"/>
  <rect x="0" y="8.100" width="7.900" height="7.900" rx="0.9" fill="#1f5fd6"/><rect x="8.100" y="8.100" width="7.900" height="7.900" rx="0.9" fill="#3aa516"/>
  <path d="M0.500 0.500h7v1.500h-7z" fill="#58c030"/><path d="M8.600 0.500h7v1.500h-7z" fill="#4f86ee"/><path d="M0.500 8.600h7v1.500h-7z" fill="#4f86ee"/><path d="M8.600 8.600h7v1.500h-7z" fill="#58c030"/>
  <g fill="#ffffff">
  <path d="M1.100 3.600Q1.100 3 1.700 3H6.200Q6.800 3 6.800 3.600V6.900H5.600V6H2.300V6.900H1.100z"/>
  <path d="M9.200 3.600Q9.200 3 9.800 3H14.300Q14.900 3 14.900 3.600V6.900H13.700V6H10.400V6.900H9.200z"/>
  <path d="M1.100 11.700Q1.100 11.100 1.700 11.100H6.200Q6.800 11.100 6.800 11.700V15H5.600V14.100H2.300V15H1.100z"/>
  <path d="M9.200 11.700Q9.200 11.100 9.800 11.100H14.300Q14.900 11.100 14.900 11.700V15H13.700V14.100H10.400V15H9.200z"/>
  <path d="M1.100 1h1v1h-1zM9.200 1h1v1h-1zM1.100 9.100h1v1h-1zM9.200 9.100h1v1h-1z" opacity="0.9"/>
  </g>
  <path d="M2.300 4.500h3.300M10.400 12.600h3.300" stroke="#9fdc7c" stroke-width="0.8"/>
  <path d="M10.400 4.500h1.200M12.500 4.500h1.200M2.300 12.600h1.200M4.400 12.600h1.200" stroke="#8fb4f5" stroke-width="0.8"/>
</g>
<!-- autoscroll / shift -->
<use href="#pressed" x="431" y="0"/>
<g transform="translate(437,6)"><use href="#axes"/><path d="M7.600 1.800L11.200 5.500L7.600 9.200z" fill="#5be05b" stroke="#0a8a0a" stroke-width="1"/></g>
<use href="#pressed" x="459" y="0"/>
<g transform="translate(465,6)"><use href="#axes"/><path d="M8.500 0V10" stroke="#1f6fa8" stroke-width="1.300"/>
  <path d="M9.500 5.500L12 3.300V4.800H14V6.200H12V7.700z" fill="#e0500a" stroke="#c04000" stroke-width="0.5"/></g>

<!-- indicators / periods / templates -->
<g transform="translate(498,4)">
  <path d="M0.500 1.500Q0.500 0.500 1.500 0.500H8L11.500 4V12.500Q11.500 13.500 10.500 13.500H1.500Q0.500 13.500 0.500 12.500z" fill="#fdfdfd" stroke="#8a8a8a"/>
  <path d="M8 0.500V4H11.500" fill="#e4e4e4" stroke="#8a8a8a"/>
  <path d="M4.500 2.500Q3 2.500 3 4.500V6Q3 7 2 7Q3 7 3 8.500V10Q3 11.500 4.500 11.500" fill="none" stroke="#555" stroke-width="1"/>
  <use href="#plus" x="4.600" y="6.400"/>
</g>
<use href="#dd" x="520" y="11"/>
<g transform="translate(536,4)">
  <circle cx="8" cy="8" r="7.400" fill="url(#gClock)" stroke="#0a4aa8" stroke-width="0.7"/>
  <circle cx="8" cy="8" r="5.300" fill="#fbfdff" stroke="#0a56c4" stroke-width="0.5"/>
  <path d="M8 3.300v1M8 11.700v1M3.300 8h1M11.700 8h1M4.700 4.700l0.600 0.600M11.300 4.700l-0.600 0.600M4.700 11.300l0.600 -0.600M11.300 11.300l-0.600 -0.600" stroke="#777" stroke-width="0.7"/>
  <path d="M7.600 3.800V8.300H10.800" stroke="#222" stroke-width="1.300" fill="none"/>
  <path d="M7 11h2" stroke="#6fb0ff" stroke-width="0.8"/>
  <path d="M3.300 3.800A6.300 6.300 0 0 1 10.500 2" stroke="#8fd0ff" stroke-width="1.100" fill="none" opacity="0.9"/>
</g>
<use href="#dd" x="559" y="11"/>
<g transform="translate(575,5)">
  <rect x="0.500" y="0.500" width="15" height="13.400" fill="#ffffff" stroke="#3a72c0" stroke-width="1"/>
  <rect x="1" y="1" width="14" height="2.200" fill="#4f8fe0"/><path d="M1.500 1.600h6" stroke="#b9d8ff" stroke-width="0.8"/>
  <path d="M0.500 8.300H15.500" stroke="#3a72c0" stroke-width="1"/>
  <path d="M2.500 6.400H4.300L5.800 5.200H7.300L8.600 6H10.200L11.800 4.900H13.700" stroke="#8b2200" stroke-width="1.400" fill="none"/>
  <path d="M3.200 11.600H4.800L5.800 10.700L7.500 11.600L9 10.900L10.600 9.500L12.200 10.400L13.400 11.600" stroke="#148a1e" stroke-width="1.400" fill="none"/>
</g>
<use href="#dd" x="598" y="11"/>

<!-- cursor / crosshair / lines -->
<use href="#pressed" x="619" y="0"/>
<path d="M627 5V16.500L629.800 14L632 19L633.800 18.200L631.600 13.300H635.300z" fill="#4a4a4a"/>
<path d="M652 12.500H667M659.500 5V20" stroke="#4a4a4a" stroke-width="1.300" shape-rendering="crispEdges"/>
<rect x="659" y="12" width="1" height="1" fill="#f0f0f0"/>
<path d="M693.500 6V19" stroke="#4a4a4a" stroke-width="1.300"/>
<path d="M716 12.500H728" stroke="#4a4a4a" stroke-width="1.300"/>
<path d="M744 18.800L756.200 7" stroke="#4a4a4a" stroke-width="1.300"/>
<!-- channel -->
<g stroke="#4a4a4a" fill="none">
  <path d="M769.400 13.700L778 5.900M774.900 18.900L784.300 10.200" stroke-width="1"/>
  <path d="M771 18.200L773.300 12L774.600 15.600L776.900 9.600L778.200 13L780.600 7L781.600 10.400L781.600 4.200" stroke-width="1.100"/>
</g>
<text x="781" y="20.700" style="font-size:7px" font-weight="bold" fill="#3c3c3c">E</text>
<!-- fibo -->
<g stroke="#4a4a4a" stroke-width="1" stroke-dasharray="1 1" shape-rendering="crispEdges">
  <path d="M799 5.500H813M799 8.500H813M799 12.500H813M799 16.500H808"/>
</g>
<text x="808.800" y="20.700" style="font-size:7px" font-weight="bold" fill="#3c3c3c">F</text>
<text x="830" y="17" style="font-size:12.500px" fill="#505050" stroke="#505050" stroke-width="0.25" textLength="7.600" lengthAdjust="spacingAndGlyphs">A</text>
<!-- text label -->
<rect x="856.500" y="6.500" width="11" height="12" fill="none" stroke="#4a4a4a" stroke-width="1" stroke-dasharray="1 1" shape-rendering="crispEdges"/>
<path d="M858.500 9.500H866M862.300 9.500V17" stroke="#4a4a4a" stroke-width="1.600" fill="none"/>
<!-- arrows -->
<g fill="#4a4a4a">
  <path d="M886.500 5.600L890 8.700L886.500 10.600L883 8.700z"/>
  <path d="M893.700 19L897.200 15.900L893.700 14L890.200 15.900z"/>
  <path d="M885 13.600L887.700 15.600L891.700 10.600" stroke="#4a4a4a" stroke-width="1.500" fill="none"/>
</g>
<use href="#dd" x="904" y="11"/>

<!-- timeframes -->
<use href="#pressed" x="1065" y="0"/>
<g class="tf">
<text x="930.500" y="15.900">M1</text><text x="958.500" y="15.900">M5</text><text x="984" y="15.900">M15</text><text x="1012.500" y="15.900">M30</text>
<text x="1043.300" y="15.900">H1</text><text x="1070.500" y="15.900">H4</text><text x="1099.300" y="15.900">D1</text><text x="1127" y="15.900">W1</text><text x="1153.500" y="15.900">MN</text>
</g>

<!-- search + chat -->
<g fill="none">
  <path d="M1643.500 12.600L1638.800 16.900" stroke="#1f55c8" stroke-width="2.400" stroke-linecap="round"/>
  <circle cx="1646.600" cy="9.500" r="4" fill="#fafcff" stroke="#2a62d8" stroke-width="1.400"/>
</g>
<path d="M1663.500 14Q1663.500 9.500 1669.500 9.500Q1675.500 9.500 1675.500 14Q1675.500 18 1669.500 18.300Q1668 18.300 1667.500 18.200L1666.300 20.500L1666 17.800Q1663.500 16.800 1663.500 14z" fill="#e6e8f0" stroke="#a9a9a9" stroke-width="0.9"/>
<circle cx="1677.400" cy="9.400" r="8.300" fill="url(#gBadge)"/>
<text x="1672.800" y="13.900" style="font-size:12.500px" fill="#fff" stroke="#fff" stroke-width="0.35">1</text>
</g>
</svg>

</body></html>
